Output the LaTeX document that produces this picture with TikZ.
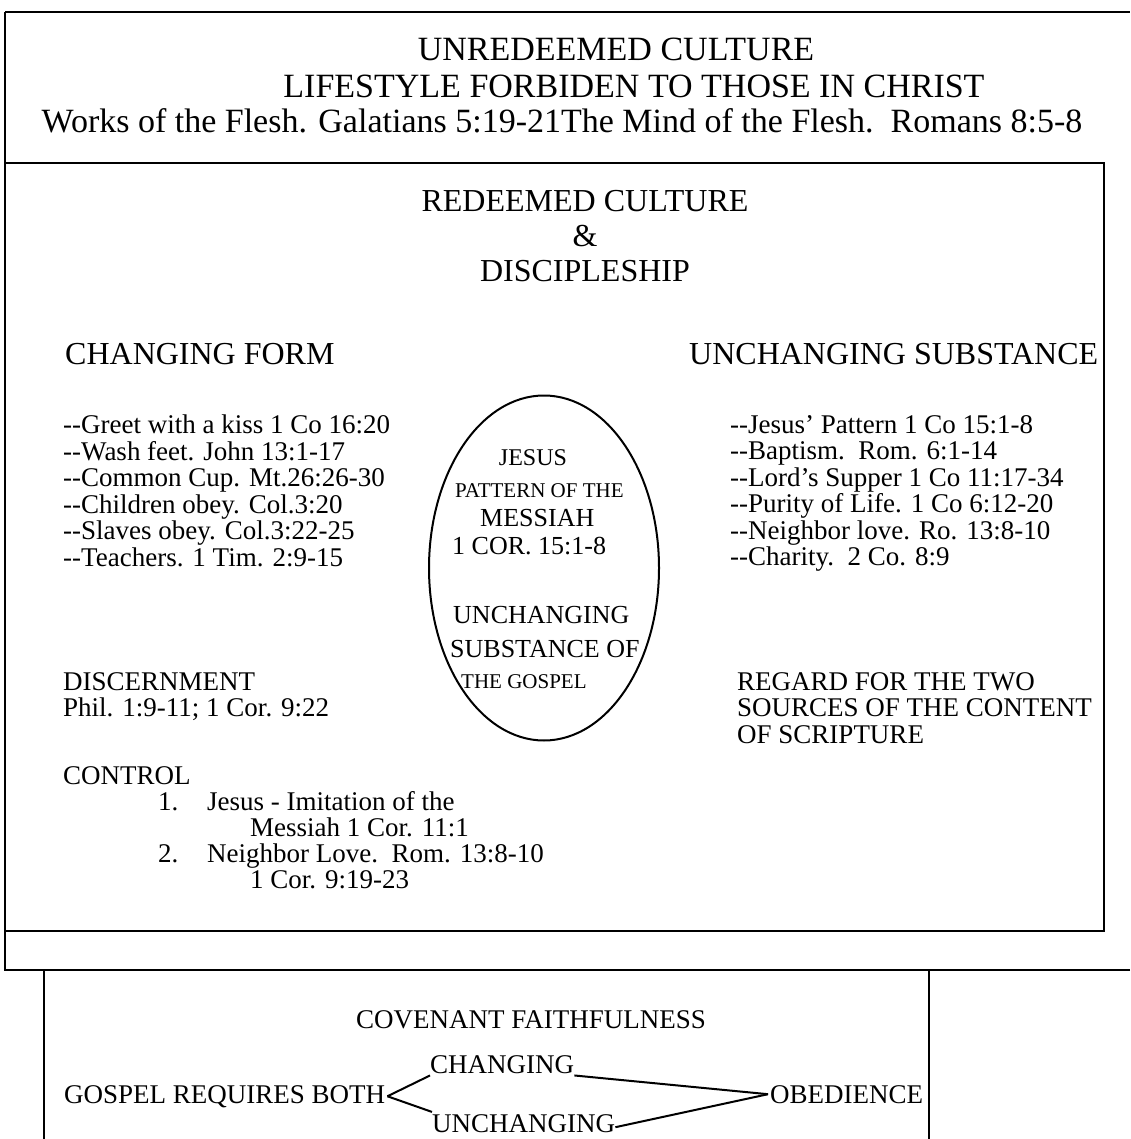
\documentclass[tikz,border=0pt]{standalone}
\usepackage{fontspec}
\setmainfont{Liberation Serif}
\usetikzlibrary{positioning,shapes.geometric}

\newcommand{\dd}{-{}-}

\tikzset{
	frame/.style={line width=2.4pt},
	bigtxt/.style={anchor=base, inner sep=0pt, font=\fontsize{34}{34}\selectfont},
	headtxt/.style={anchor=base, inner sep=0pt, font=\fontsize{32}{35}\selectfont},
	txt/.style={anchor=base west, inner sep=0pt, align=left, font=\fontsize{27}{26.5}\selectfont},
	listtxt/.style={txt, anchor=north west},
	elltxt/.style={anchor=base west, inner sep=0pt, font=\fontsize{#1}{#1}\selectfont},
	link/.style={line width=2pt}
}

\begin{document}
\begin{tikzpicture}[x=1pt, y=-1pt]
	%%%%% START %%%%%
	\useasboundingbox (0,0) rectangle (1130,1139);
	
	% frames
	\draw[frame] (5,12) -- (1130,12);
	\draw[frame] (1130,970) -- (5,970) -- (5,12);
	\draw[frame] (5,163) -- (1104,163) -- (1104,931) -- (5,931);
	\draw[frame] (44,970) -- (44,1139);
	\draw[frame] (929,970) -- (929,1139);
	
	% unredeemed culture
	\node[bigtxt] (unred) at (616,61) {UNREDEEMED CULTURE};
	\node[bigtxt] (forbid) at (634,98) {LIFESTYLE FORBIDEN TO THOSE IN CHRIST};
	\node[bigtxt] (works) at (562,133) {Works of the Flesh. Galatians 5:19-21The Mind of the Flesh.\ \ Romans 8:5-8};
	
	% redeemed culture
	\node[headtxt, align=center, anchor=north] (red) at (585,190) {REDEEMED CULTURE\\\&\\DISCIPLESHIP};
	\node[headtxt, anchor=base west] (chform) at (65,364) {CHANGING FORM};
	\node[headtxt, anchor=base west] (unsub) at (689,364) {UNCHANGING SUBSTANCE};
	
	\node[listtxt] (formlist) at (63,415) {\dd Greet with a kiss 1 Co 16:20\\\dd Wash feet. John 13:1-17\\\dd Common Cup. Mt.26:26-30\\\dd Children obey. Col.3:20\\\dd Slaves obey. Col.3:22-25\\\dd Teachers. 1 Tim. 2:9-15};
	\node[listtxt] (sublist) at (730,415) {\dd Jesus' Pattern 1 Co 15:1-8\\\dd Baptism.\ \ Rom. 6:1-14\\\dd Lord's Supper 1 Co 11:17-34\\\dd Purity of Life. 1 Co 6:12-20\\\dd Neighbor love. Ro. 13:8-10\\\dd Charity.\ \ 2 Co. 8:9};
	
	\node[listtxt] (discern) at (63,672) {DISCERNMENT\\Phil. 1:9-11; 1 Cor. 9:22};
	\node[listtxt] (regard) at (737,672) {REGARD FOR THE TWO\\SOURCES OF THE CONTENT\\OF SCRIPTURE};
	
	\node[txt] (control) at (63,784) {CONTROL};
	\node[txt] (num1) at (158,810) {1.};
	\node[txt] (ctrl1) at (207,810) {Jesus - Imitation of the};
	\node[txt] (ctrl1b) at (250,836) {Messiah 1 Cor. 11:1};
	\node[txt] (num2) at (158,862) {2.};
	\node[txt] (ctrl2) at (207,862) {Neighbor Love.\ \ Rom. 13:8-10};
	\node[txt] (ctrl2b) at (250,888) {1 Cor. 9:19-23};
	
	% the oval
	\node[draw, ellipse, line width=2pt, minimum width=230pt, minimum height=345pt] (oval) at (544,568) {};
	\node[elltxt=24, anchor=base] (jesus) at (533,465) {JESUS};
	\node[elltxt=21] (pattern) at (455,497) {PATTERN OF THE};
	\node[elltxt=26] (messiah) at (480,526) {MESSIAH};
	\node[elltxt=26] (cor) at (452,554) {1 COR. 15:1-8};
	\node[elltxt=26] (unch) at (453,623) {UNCHANGING};
	\node[elltxt=26] (subst) at (450,657) {SUBSTANCE OF};
	\node[elltxt=21] (gosp) at (461,688) {THE GOSPEL};
	
	% covenant faithfulness
	\node[txt, anchor=base] (covenant) at (531,1028) {COVENANT FAITHFULNESS};
	\node[txt] (gospel) at (64,1103) {GOSPEL REQUIRES BOTH};
	\node[txt] (chg) at (430,1073) {CHANGING};
	\node[txt] (unchg) at (432,1132) {UNCHANGING};
	\node[txt] (obed) at (770,1103) {OBEDIENCE};
	
	\draw[link] ([xshift=2pt]gospel.east) -- ([yshift=-2pt]chg.south west);
	\draw[link] ([xshift=2pt]gospel.east) -- ([yshift=2pt]unchg.north west);
	\draw[link] ([yshift=-2pt]chg.south east) -- ([xshift=-2pt]obed.west);
	\draw[link] ([yshift=-4pt]unchg.east) -- ([xshift=-2pt]obed.west);
	
	%%%%% END %%%%%
\end{tikzpicture}
\end{document}
